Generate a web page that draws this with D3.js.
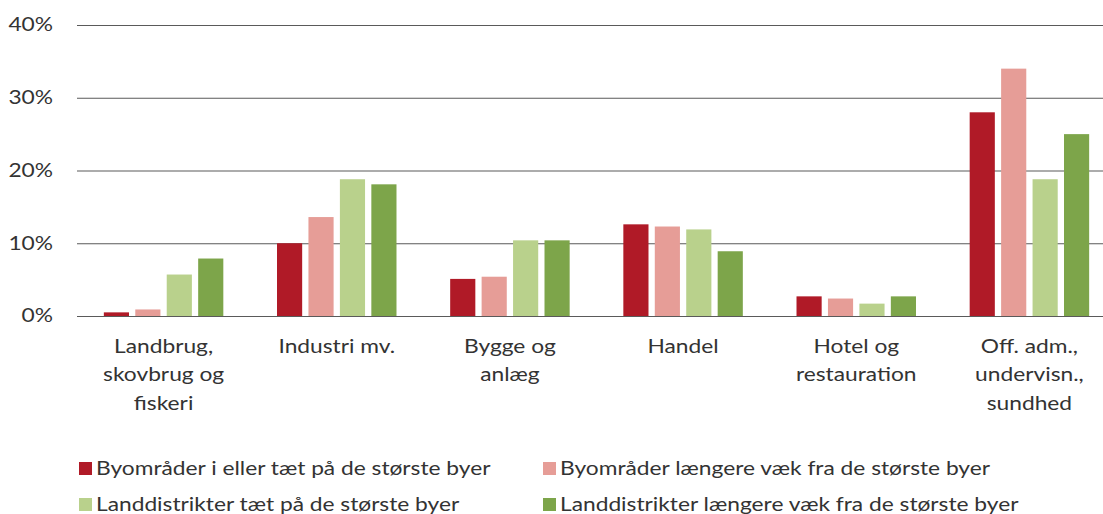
<!DOCTYPE html>
<html lang="da">
<head>
<meta charset="UTF-8" />
<title>index</title>
<script src="https://d3js.org/d3.v7.min.js"></script>
<style>
  body { margin: 0; background: #fff; }
  text { font-family: Lato, "Open Sans", sans-serif; fill: #333; }
</style>
</head>
<body>
<div id="my_dataviz"></div>
<script>
// data
var categories = [
  ["Landbrug,", "skovbrug og", "fiskeri"],
  ["Industri mv."],
  ["Bygge og", "anlæg"],
  ["Handel"],
  ["Hotel og", "restauration"],
  ["Off. adm.,", "undervisn.,", "sundhed"]
];
var seriesNames = [
  "Byområder i eller tæt på de største byer",
  "Byområder længere væk fra de største byer",
  "Landdistrikter tæt på de største byer",
  "Landdistrikter længere væk fra de største byer"
];
var seriesColors = ["#b01a27", "#e69d97", "#b9d18c", "#7da54a"];
var byNear   = [0.5, 10.0, 5.1, 12.6, 2.7, 28.0];
var byFar    = [0.9, 13.6, 5.4, 12.3, 2.4, 34.0];
var landNear = [5.7, 18.8, 10.4, 11.9, 1.7, 18.8];
var landFar  = [7.9, 18.1, 10.4, 8.9, 2.7, 25.0];
var yTicks = [0, 10, 20, 30, 40];

var values = [byNear, byFar, landNear, landFar];
var W = 1103, H = 514;
var sx = 1.23; // text in the original looks stretched sideways

var svg = d3.select("#my_dataviz")
  .append("svg")
    .attr("width", W)
    .attr("height", H);

var catIdx = d3.range(categories.length);

// x scales
var x0 = d3.scaleBand()
  .domain(catIdx)
  .range([77, 1116])
  .paddingInner(0.31)
  .paddingOuter(0.155);
var x1 = d3.scaleBand()
  .domain(d3.range(seriesNames.length))
  .range([0, x0.bandwidth()])
  .paddingInner(0.2);

// y scale
var y = d3.scaleLinear()
  .domain([0, 40])
  .range([316, 25]);

// gridlines + tick labels
var yAxis = svg.append("g")
  .attr("transform", "translate(77,0)")
  .call(d3.axisLeft(y).tickValues(yTicks).tickSize(-1039)
    .tickFormat(function(d) { return d + "%"; }));
yAxis.select(".domain").remove();
yAxis.selectAll(".tick line")
  .attr("stroke", "#5a5a5a")
  .attr("stroke-width", 1.2);
yAxis.selectAll(".tick text")
  .attr("x", -24 / sx)
  .attr("transform", "scale(" + sx + ",1)")
  .attr("font-size", 18.5)
  .attr("font-family", "Lato, sans-serif")
  .attr("fill", "#3a3a3a");

// bars
var groups = svg.selectAll("g.grp")
  .data(catIdx)
  .enter()
  .append("g")
    .attr("class", "grp")
    .attr("transform", function(i) { return "translate(" + x0(i) + ",0)"; });

groups.selectAll("rect")
  .data(function(i) { return values.map(function(s, k) { return {k: k, v: s[i]}; }); })
  .enter()
  .append("rect")
    .attr("x", function(d) { return x1(d.k); })
    .attr("y", function(d) { return y(d.v); })
    .attr("width", x1.bandwidth())
    .attr("height", function(d) { return y(0) - y(d.v); })
    .attr("fill", function(d) { return seriesColors[d.k]; });

// category labels
svg.selectAll("g.cat")
  .data(catIdx)
  .enter()
  .append("g")
    .attr("class", "cat")
    .attr("transform", function(i) {
      return "translate(" + (x0(i) + x0.bandwidth() / 2) + ",0) scale(" + sx + ",1)";
    })
  .append("text")
    .attr("text-anchor", "middle")
    .attr("font-size", 18.5)
    .each(function(i) {
      var t = d3.select(this);
      categories[i].forEach(function(line, j) {
        t.append("tspan")
          .attr("x", 0)
          .attr("y", 353 + j * 28.5)
          .text(line);
      });
    });

// legend
var legX = [79, 543], legY = [469, 505];
var leg = svg.selectAll("g.leg")
  .data(seriesNames)
  .enter()
  .append("g")
    .attr("class", "leg")
    .attr("transform", function(d, k) {
      return "translate(" + legX[k % 2] + "," + legY[Math.floor(k / 2)] + ")";
    });
leg.append("rect")
  .attr("x", 0).attr("y", -7)
  .attr("width", 13).attr("height", 13)
  .attr("fill", function(d, k) { return seriesColors[k]; });
leg.append("text")
  .attr("transform", "translate(17,0) scale(" + sx + ",1)")
  .attr("y", 6)
  .attr("font-size", 18.5)
  .text(function(d) { return d; });
</script>
</body>
</html>
